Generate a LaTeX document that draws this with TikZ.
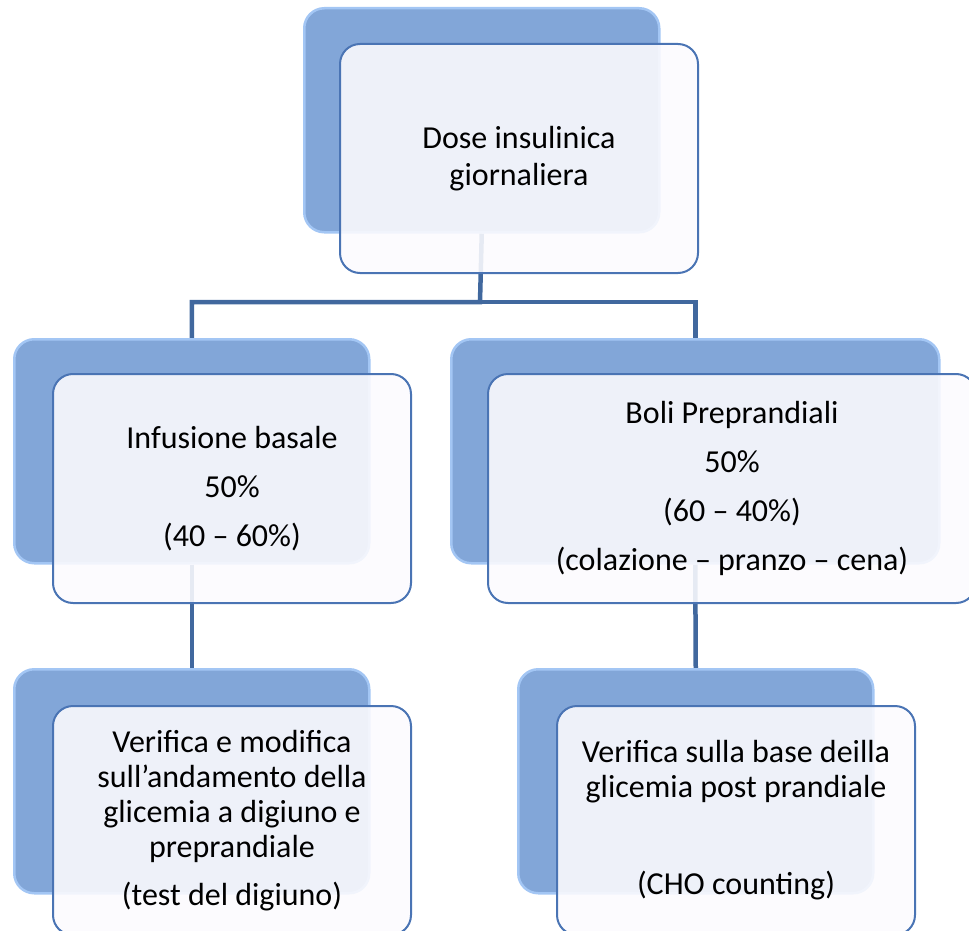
\documentclass[tikz,border=0pt]{standalone}
\usepackage{fontspec}
\setmainfont{Carlito}
\usetikzlibrary{backgrounds}

\definecolor{backblue}{HTML}{82A6D8}
\definecolor{backrim}{HTML}{A3C6F4}
\definecolor{frontfill}{HTML}{FCFBFE}
\definecolor{frontline}{HTML}{4A74B4}
\definecolor{linkblue}{HTML}{41689E}

\tikzset{
    backbox/.style={rounded corners=20pt, fill=backblue, draw=backrim, line width=2.5pt,
        minimum width=355pt, minimum height=224pt, anchor=north west, inner sep=0pt},
    frontbox/.style={rounded corners=20pt, fill=frontfill, fill opacity=0.885, text opacity=1,
        draw=frontline, line width=2pt, minimum width=358pt, minimum height=229pt,
        anchor=north west, align=center, inner sep=0pt,
        font=\fontsize{32}{35}\selectfont},
    link/.style={draw=linkblue, line width=4.5pt}
}

\begin{document}
\begin{tikzpicture}[x=1pt,y=-1pt]
                \useasboundingbox (0,0) rectangle (969,931);

                % back boxes, needed first so the links can end on them
                \path
                    (303,7) node (topback) [backbox] {}
                    (13,338) node (leftback) [backbox] {}
                    (450,338) node (rightback) [backbox, minimum width=488pt] {}
                    (13,668) node (lowleftback) [backbox] {}
                    (517,668) node (lowrightback) [backbox] {}
                ;

                \node (fork) [coordinate] at (480,302) {};

                % links go under the boxes
                \begin{pgfonlayer}{background}
                \draw [link] (topback.south) -- (fork) -| (leftback.north);
                \draw [link] (fork) -| (rightback.north);
                \draw [link] (leftback.south) -- (lowleftback.north);
                \draw [link] (rightback.south) -- (lowrightback.north);
                \end{pgfonlayer}

                % front boxes with the texts
                \node (top) [frontbox] at (339,43) {Dose insulinica\\[2pt] giornaliera};
                \node (left) [frontbox] at (52,373) {Infusione basale\\[14pt] 50\%\\[14pt] (40 -- 60\%)};
                \node (right) [frontbox, minimum width=488pt] at (487,373)
                    {Boli Preprandiali\\[14pt] 50\%\\[14pt] (60 -- 40\%)\\[14pt] (colazione -- pranzo -- cena)};
                \node (lowleft) [frontbox] at (52,705)
                    {Verifica e modifica\\ sull’andamento della\\ glicemia a digiuno e\\ preprandiale\\[13pt] (test del digiuno)};
                \node (lowright) [frontbox] at (556,705)
                    {Verifica sulla base deilla\\ glicemia post prandiale\\[62pt] (CHO counting)};
            \end{tikzpicture}
\end{document}
